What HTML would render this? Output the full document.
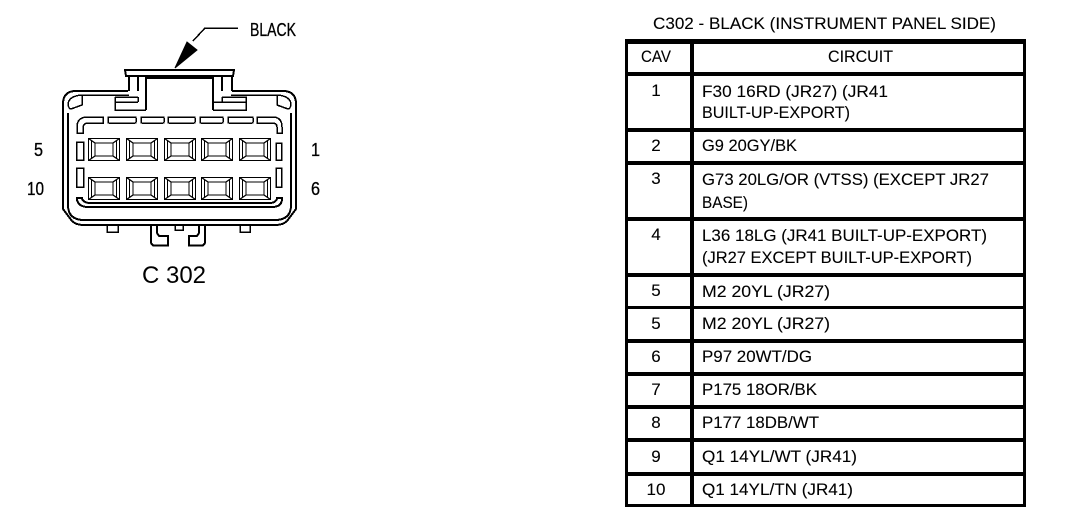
<!DOCTYPE html>
<html>
<head>
<meta charset="utf-8">
<style>
html,body{margin:0;padding:0;background:#fff;width:1072px;height:532px;overflow:hidden}
svg{display:block}
text{font-family:"Liberation Sans",sans-serif;fill:#000;font-size:17px;stroke:#000;stroke-width:.1}
.c{stroke:#000;stroke-width:1.5;fill:none;shape-rendering:crispEdges}
.l{font-size:18px;stroke-width:.3}
</style>
</head>
<body>
<svg width="1072" height="532" viewBox="0 0 1072 532" xmlns="http://www.w3.org/2000/svg">
<defs>
<g id="cav" class="c" style="stroke-width:1.3">
<rect x="0.5" y="0.5" width="31" height="22"/>
<rect x="7" y="5" width="18" height="13"/>
<path d="M3.5 3V20M28.5 3V20"/>
<path d="M0.5 0.5L7 5M31.5 0.5L25 5M0.5 22.500L7 18M31.500 22.500L25 18" style="shape-rendering:auto"/>
</g>
</defs>
<rect width="1072" height="532" fill="#fff"/>

<!-- leader and arrow -->
<path d="M238 28H205L193 41" class="c"/>
<path d="M175 68L187 42L197 50Z" fill="#000" stroke="#000"/>

<!-- connector body -->
<g class="c">
<path d="M128 91H76Q63 91 63 104V209L72 221Q76 225 84 225H275Q283 225 287 221L296 209V104Q296 91 283 91H232" stroke-width="2"/>
<path d="M68 113V205Q68 220 84 220H275Q291 220 291 205V113" stroke-width="2"/>
<path d="M125 70H234L233 76H126Z" stroke-width="2"/>
<path d="M129 77V91M138 77V91M222 77V91M232 77V91" stroke-width="2"/>
<path d="M146 110V78H213V110" stroke-width="2"/>
<path d="M115 97V110H146M115 97H138M115 102H138M213 110H246V97H222M213 102H246M138 97V102M222 97V102"/>
<path d="M82 95H129M231 95H277"/>
<path d="M82 95Q68 96 68 105Q69 109 71 109L82 105V95M277 95Q291 96 291 105Q290 109 288 109L277 105V95"/>

<!-- seal segments -->
<path d="M103 117H86Q77 118 77 127V133H83V127Q84 123 88 123H103Z"/>
<rect x="108" y="117" width="28" height="6" rx="1"/>
<rect x="141" y="117" width="23" height="6" rx="1"/>
<rect x="168" y="117" width="27" height="6" rx="1"/>
<rect x="200" y="117" width="23" height="6" rx="1"/>
<rect x="228" y="117" width="25" height="6" rx="1"/>
<path d="M257 117H274Q282 118 282 127V133H277V127Q277 123 272 123H257Z"/>

<!-- side slots -->
<rect x="76.500" y="142" width="7" height="18"/>
<rect x="76.500" y="168" width="7" height="19"/>
<rect x="276" y="143" width="5.500" height="17"/>
<rect x="276" y="168" width="5.500" height="19"/>

<!-- lower seal -->
<path d="M77 198V200Q79 207 88 207H272Q281 207 282 200V198H277V199Q275 203 270 203H90Q84 203 82 199V198Z" stroke-width="2"/>

<!-- bottom tabs -->
<path d="M107 226V232H118V226M175 226V230H183V226M240 226V232H250V226"/>
<path d="M151 226V243L153 245.500H168V236H159L157 233V226" stroke-width="2"/>
<path d="M205 226V243L203 245.500H189V236H197L199 233V226" stroke-width="2"/>
</g>

<use href="#cav" x="88" y="138"/>
<use href="#cav" x="126" y="138"/>
<use href="#cav" x="164" y="138"/>
<use href="#cav" x="201" y="138"/>
<use href="#cav" x="239" y="138"/>
<use href="#cav" x="88" y="177"/>
<use href="#cav" x="126" y="177"/>
<use href="#cav" x="164" y="177"/>
<use href="#cav" x="201" y="177"/>
<use href="#cav" x="239" y="177"/>

<!-- connector labels -->
<text class="l" x="250" y="36" textLength="46" lengthAdjust="spacingAndGlyphs">BLACK</text>
<text class="l" x="34" y="156" textLength="9" lengthAdjust="spacingAndGlyphs">5</text>
<text class="l" x="311" y="156" textLength="9" lengthAdjust="spacingAndGlyphs">1</text>
<text class="l" x="27" y="195" textLength="17" lengthAdjust="spacingAndGlyphs">10</text>
<text class="l" x="311" y="195" textLength="9" lengthAdjust="spacingAndGlyphs">6</text>
<text x="142" y="283" textLength="64" lengthAdjust="spacingAndGlyphs" style="font-size:24px;stroke-width:0">C 302</text>

<!-- table -->
<text x="653" y="29" textLength="343" lengthAdjust="spacingAndGlyphs">C302 - BLACK (INSTRUMENT PANEL SIDE)</text>
<g fill="#000">
<rect x="625" y="39" width="401" height="5"/>
<rect x="625" y="39" width="3" height="468"/>
<rect x="1023" y="39" width="3" height="468"/>
<rect x="690" y="39" width="4" height="468"/>
<rect x="625" y="72" width="401" height="4"/>
<rect x="625" y="128" width="401" height="4"/>
<rect x="625" y="161" width="401" height="4"/>
<rect x="625" y="217" width="401" height="4"/>
<rect x="625" y="273" width="401" height="4"/>
<rect x="625" y="306" width="401" height="3"/>
<rect x="625" y="339" width="401" height="4"/>
<rect x="625" y="372" width="401" height="4"/>
<rect x="625" y="405" width="401" height="4"/>
<rect x="625" y="438" width="401" height="4"/>
<rect x="625" y="472" width="401" height="4"/>
<rect x="625" y="504" width="401" height="3"/>
</g>

<text x="641" y="62" textLength="30" lengthAdjust="spacingAndGlyphs">CAV</text>
<text x="828" y="62" textLength="65" lengthAdjust="spacingAndGlyphs">CIRCUIT</text>

<g text-anchor="middle">
<text x="656" y="96">1</text>
<text x="656" y="151">2</text>
<text x="656" y="184">3</text>
<text x="656" y="240">4</text>
<text x="656" y="296">5</text>
<text x="656" y="329">5</text>
<text x="656" y="362">6</text>
<text x="656" y="395">7</text>
<text x="656" y="428">8</text>
<text x="656" y="462">9</text>
<text x="656" y="495">10</text>
</g>

<text x="702" y="97" textLength="186" lengthAdjust="spacingAndGlyphs">F30 16RD (JR27) (JR41</text>
<text x="702" y="118" textLength="148" lengthAdjust="spacingAndGlyphs">BUILT-UP-EXPORT)</text>
<text x="702" y="151" textLength="95" lengthAdjust="spacingAndGlyphs">G9 20GY/BK</text>
<text x="702" y="185" textLength="287" lengthAdjust="spacingAndGlyphs">G73 20LG/OR (VTSS) (EXCEPT JR27</text>
<text x="702" y="208" textLength="46" lengthAdjust="spacingAndGlyphs">BASE)</text>
<text x="702" y="241" textLength="285" lengthAdjust="spacingAndGlyphs">L36 18LG (JR41 BUILT-UP-EXPORT)</text>
<text x="702" y="263" textLength="270" lengthAdjust="spacingAndGlyphs">(JR27 EXCEPT BUILT-UP-EXPORT)</text>
<text x="702" y="297" textLength="128" lengthAdjust="spacingAndGlyphs">M2 20YL (JR27)</text>
<text x="702" y="329" textLength="128" lengthAdjust="spacingAndGlyphs">M2 20YL (JR27)</text>
<text x="702" y="362" textLength="110" lengthAdjust="spacingAndGlyphs">P97 20WT/DG</text>
<text x="702" y="395" textLength="115" lengthAdjust="spacingAndGlyphs">P175 18OR/BK</text>
<text x="702" y="428" textLength="117" lengthAdjust="spacingAndGlyphs">P177 18DB/WT</text>
<text x="702" y="462" textLength="155" lengthAdjust="spacingAndGlyphs">Q1 14YL/WT (JR41)</text>
<text x="702" y="495" textLength="151" lengthAdjust="spacingAndGlyphs">Q1 14YL/TN (JR41)</text>
</svg>
</body>
</html>
